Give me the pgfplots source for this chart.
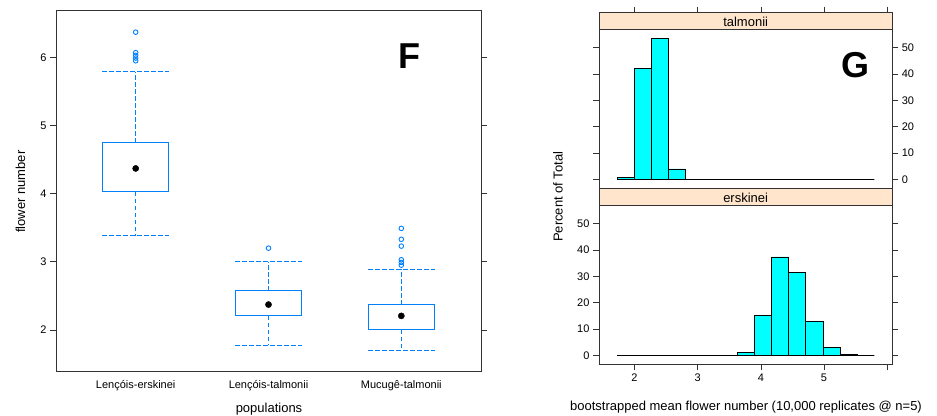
\documentclass[border=0pt]{standalone}
\usepackage{pgfplots}
\pgfplotsset{compat=1.18}
\usepackage{fontspec}
\setmainfont{Liberation Sans}
\definecolor{boxblue}{HTML}{0080FF}
\definecolor{stripcol}{HTML}{FFE5CC}
\definecolor{histcyan}{HTML}{00FFFF}
\begin{document}
\begin{tikzpicture}
\useasboundingbox (0,0) rectangle (937pt,415pt);
\pgfplotsset{
  common/.style={
    scale only axis, anchor=south west,
    tick align=outside, major tick length=6pt,
    axis line style={black!80, line width=0.7pt},
    tick style={black!80, line width=0.6pt},
    /pgf/number format/assume math mode=true,
    ticklabel style={font=\fontsize{11}{13}\selectfont},
    clip=false,
  },
  whisk/.style={color=boxblue, no marks, line width=1.2pt, dash pattern=on 4.5pt off 2.5pt},
}
% ---------------- left: box plots ----------------
\begin{axis}[common, at={(56pt,44pt)}, width=425pt, height=360.3pt,
  xmin=0.4, xmax=3.6, ymin=1.397, ymax=6.685,
  xtick={1,2,3}, xticklabels={Lençóis-erskinei,Lençóis-talmonii,Mucugê-talmonii},
  xtick pos=bottom, every x tick/.append style={draw=none},
  ytick={2,3,4,5,6}, ytick pos=both, yticklabel pos=left]
% boxes
\addplot[color=boxblue, no marks, line width=1.1pt] coordinates {(0.75,4.025)(1.25,4.025)(1.25,4.745)(0.75,4.745)(0.75,4.025)};
\addplot[color=boxblue, no marks, line width=1.1pt] coordinates {(1.75,2.206)(2.25,2.206)(2.25,2.574)(1.75,2.574)(1.75,2.206)};
\addplot[color=boxblue, no marks, line width=1.1pt] coordinates {(2.75,2.0)(3.25,2.0)(3.25,2.372)(2.75,2.372)(2.75,2.0)};
% whiskers
\addplot[whisk] coordinates {(1,4.745)(1,5.79)};
\addplot[whisk] coordinates {(1,4.025)(1,3.38)};
\addplot[whisk] coordinates {(2,2.574)(2,3.0)};
\addplot[whisk] coordinates {(2,2.206)(2,1.775)};
\addplot[whisk] coordinates {(3,2.372)(3,2.89)};
\addplot[whisk] coordinates {(3,2.0)(3,1.70)};
% caps
\addplot[whisk] coordinates {(0.75,5.79)(1.25,5.79)};
\addplot[whisk] coordinates {(0.75,3.38)(1.25,3.38)};
\addplot[whisk] coordinates {(1.75,3.0)(2.25,3.0)};
\addplot[whisk] coordinates {(1.75,1.775)(2.25,1.775)};
\addplot[whisk] coordinates {(2.75,2.89)(3.25,2.89)};
\addplot[whisk] coordinates {(2.75,1.70)(3.25,1.70)};
% outliers
\addplot[only marks, mark=o, mark size=2.3pt, boxblue, mark options={line width=0.9pt}] coordinates {
(1,6.37)(1,6.07)(1,6.03)(1,5.99)(1,5.95)
(2,3.2)
(3,3.49)(3,3.33)(3,3.23)(3,3.03)(3,2.99)(3,2.95)};
% medians
\addplot[only marks, mark=*, mark size=3.1pt, black] coordinates {(1,4.37)(2,2.372)(3,2.206)};
\end{axis}
\node[rotate=90, anchor=base, font=\fontsize{13}{15}\selectfont] at (25pt,223.3pt) {flower number};
\node[anchor=base, font=\fontsize{13}{15}\selectfont] at (269pt,2.3pt) {populations};
\node[anchor=base, font=\fontsize{36}{40}\selectfont\bfseries] at (409pt,346.7pt) {F};

% ---------------- right: histograms ----------------
\begin{axis}[common, at={(599pt,50.7pt)}, width=293.3pt, height=351.6pt,
  xmin=1.44, xmax=6.08, ymin=0, ymax=1,
  xtick={2,3,4,5,6}, xticklabels={2,3,4,5,{}},
  xtick pos=both, xticklabel pos=bottom,
  ytick=\empty]
\end{axis}

\begin{axis}[common, at={(599pt,226.7pt)}, width=293.3pt, height=159.3pt,
  xmin=1.44, xmax=6.08, ymin=-3.45, ymax=57.15,
  xtick=\empty,
  ytick={0,10,20,30,40,50}, ytick pos=both, yticklabel pos=right]
\addplot[ybar interval, fill=histcyan, draw=black, line width=0.8pt] coordinates {
(1.725,0.76)(1.9965,42.2)(2.268,53.4)(2.5395,3.9)(2.811,0)(3.0825,0)(3.354,0)(3.6255,0)
(3.897,0)(4.1685,0)(4.44,0)(4.7115,0)(4.983,0)(5.2545,0)(5.526,0)(5.7975,0)};
\draw[fill=stripcol, draw=black!80, line width=0.7pt] (rel axis cs:0,1) rectangle ([yshift=16.4pt]rel axis cs:1,1);
\node[anchor=base, font=\fontsize{13}{15}\selectfont] at ([yshift=2.5pt]rel axis cs:0.5,1) {talmonii};
\end{axis}

\begin{axis}[common, at={(599pt,50.7pt)}, width=293.3pt, height=159.3pt,
  xmin=1.44, xmax=6.08, ymin=-3.45, ymax=57.15,
  xtick=\empty,
  ytick={0,10,20,30,40,50}, ytick pos=both, yticklabel pos=left]
\addplot[ybar interval, fill=histcyan, draw=black, line width=0.8pt] coordinates {
(1.725,0)(1.9965,0)(2.268,0)(2.5395,0)(2.811,0)(3.0825,0)(3.354,0)(3.6255,1.15)
(3.897,15.0)(4.1685,37.4)(4.44,31.6)(4.7115,13.0)(4.983,3.05)(5.2545,0.4)(5.526,0)(5.7975,0)};
\draw[fill=stripcol, draw=black!80, line width=0.7pt] (rel axis cs:0,1) rectangle ([yshift=16.7pt]rel axis cs:1,1);
\node[anchor=base, font=\fontsize{13}{15}\selectfont] at ([yshift=2.5pt]rel axis cs:0.5,1) {erskinei};
\end{axis}
\node[rotate=90, anchor=base, font=\fontsize{13}{15}\selectfont] at (562.5pt,218.3pt) {Percent of Total};
\node[anchor=base, font=\fontsize{13}{15}\selectfont] at (746pt,4.3pt) {bootstrapped mean flower number (10,000 replicates @ n=5)};
\node[anchor=base, font=\fontsize{36}{40}\selectfont\bfseries] at (855pt,337pt) {G};
\end{tikzpicture}
\end{document}
